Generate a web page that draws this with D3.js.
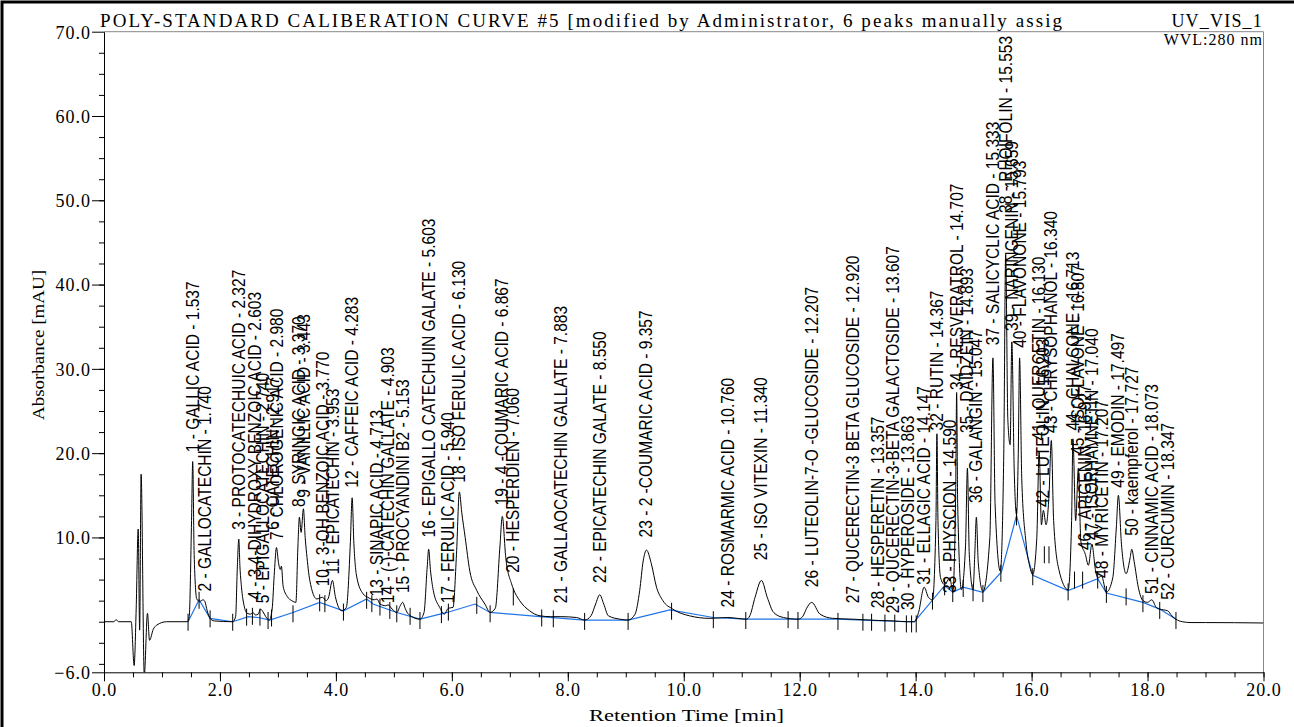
<!DOCTYPE html>
<html>
<head>
<meta charset="utf-8">
<script src="https://cdn.jsdelivr.net/npm/d3@7"></script>
<style>
  body { margin: 0; background: #fff; }
  svg { display: block; }
</style>
</head>
<body>
<svg id="chart" width="1294" height="727"></svg>
<script>
// chromatogram trace, [time min, absorbance mAU]
var trace = [
  [0,0],[0.17,0],[0.21,0.25],[0.25,0],[0.47,0],[0.52,-5.2],[0.555,1.5],[0.59,11],[0.615,-1],[0.64,17.5],
  [0.695,-6.3],[0.75,1],[0.785,-2.2],[0.85,-0.9],[0.91,-0.4],[1.08,0],[1.44,0],
  [1.47,0.6],[1.51,12],[1.53,19],[1.555,8],[1.60,2.7],[1.65,2.4],[1.71,2.6],[1.74,2.4],[1.78,1.3],[1.83,0.4],[1.90,0.1],[2.22,0],
  [2.27,0.6],[2.30,6.5],[2.325,9.8],[2.345,6.5],[2.37,4.2],[2.42,1.8],[2.47,1.0],[2.53,0.9],[2.57,1.1],[2.61,0.8],
  [2.66,0.9],[2.70,1.5],[2.74,1.2],[2.79,0.6],[2.85,0.2],
  [2.90,1.5],[2.94,6],[2.975,8.8],[3.01,7.0],[3.04,6.2],[3.06,6.6],[3.09,4.2],[3.16,3.0],[3.24,2.5],[3.31,2.3],
  [3.345,9],[3.37,12.4],[3.40,10.6],[3.44,13.4],[3.47,10],[3.495,8.1],[3.55,4.9],[3.67,2.7],[3.77,2.9],[3.83,2.5],
  [3.87,2.8],[3.94,4.9],[3.99,3],[4.10,1.3],[4.18,1.7],
  [4.25,9.5],[4.28,14.7],[4.31,9.3],[4.36,5.3],[4.47,3.3],[4.55,2.9],[4.66,2.6],[4.71,2.7],[4.76,2.1],[4.86,1.9],
  [4.90,2.0],[4.97,1.5],[5.05,1.1],[5.11,1.9],[5.15,2.3],[5.20,1.5],[5.25,0.9],[5.45,0.3],
  [5.52,1.1],[5.575,6.5],[5.60,8.6],[5.63,6.2],[5.68,3.7],[5.79,1.7],[5.87,0.9],[5.94,1.6],[6.02,1.7],
  [6.08,8],[6.13,15.4],[6.17,13],[6.23,10],[6.31,6],[6.43,3.7],[6.57,2.1],[6.66,1.1],
  [6.75,1.6],[6.83,9],[6.87,12.5],[6.93,7.6],[7.03,4.5],[7.06,3.9],[7.17,2.5],[7.34,1.3],[7.52,0.7],[7.70,0.6],
  [7.88,0.6],[8.15,0.5],[8.29,0.2],
  [8.40,0.7],[8.48,2.1],[8.55,3.2],[8.62,2.1],[8.70,0.7],[8.90,0.3],[9.04,0.2],
  [9.16,0.9],[9.24,3.7],[9.30,7.2],[9.357,8.5],[9.44,6.9],[9.53,4.1],[9.64,2.5],[9.81,1.5],[10.1,0.7],[10.45,0.4],
  [10.76,0.5],[11.08,0.3],
  [11.14,0.7],[11.23,2.9],[11.34,4.9],[11.44,2.9],[11.55,1.1],[11.72,0.5],[11.97,0.3],
  [12.05,0.6],[12.12,1.6],[12.207,2.3],[12.35,0.9],[12.57,0.4],[12.92,0.3],[13.36,0.15],[13.61,0.1],[13.86,0],[13.98,0],
  [14.05,1.1],[14.147,4.1],[14.22,2.9],[14.29,2.6],[14.35,12],[14.367,22.3],[14.385,12],[14.43,5.2],[14.50,4.4],
  [14.59,5.2],[14.64,3.6],[14.69,15],[14.707,27.2],[14.725,14],[14.79,3.8],[14.86,9],[14.893,18.2],[14.925,8],
  [14.99,3.8],[15.02,8],[15.047,12.4],[15.08,7],[15.16,3.6],
  [15.28,10],[15.333,31.3],[15.37,14],[15.46,6],[15.52,20],[15.553,43.6],[15.59,24],[15.63,21],[15.659,33.2],
  [15.70,18],[15.74,12.7],[15.77,20],[15.793,31.3],[15.83,17],[15.90,9.6],[15.97,6.5],[16.02,5.6],
  [16.09,10],[16.13,20.2],[16.17,11.5],[16.203,13.2],[16.25,11.5],[16.30,15],[16.34,21.5],[16.38,12],[16.47,6.2],[16.63,3.8],
  [16.69,12],[16.713,21.7],[16.76,12],[16.807,18.2],[16.85,9.5],[16.927,8],[16.98,6.7],[17.04,9.2],[17.10,6.2],
  [17.14,5.2],[17.207,5.4],[17.29,3.5],
  [17.40,5.2],[17.46,11],[17.497,15],[17.55,9.2],[17.63,5.7],[17.70,7.6],[17.727,8.6],[17.77,7.1],[17.84,4.1],
  [17.92,2.5],[18.00,2.3],[18.073,2.6],[18.15,1.7],[18.21,1.5],[18.28,1.4],[18.347,1.3],[18.42,0.7],[18.49,0.3],
  [18.60,0],[18.75,-0.1],[19.0,-0.1],[20.0,-0.15]
];

// integration baseline (blue)
var baseline = [
  [1.45,0],[1.64,2.6],[1.83,0.4],[2.22,0],[2.49,0.6],[2.66,0.5],[2.86,0.2],[3.26,1.1],[3.72,2.3],[4.13,1.3],
  [4.53,2.7],[4.64,2.1],[5.05,1.1],[5.45,0.3],[5.92,1.1],[6.40,2.1],[6.66,1.1],[7.52,0.6],[8.29,0.2],[9.04,0.2],
  [9.76,1.4],[10.51,0.5],[11.08,0.3],[11.8,0.3],[12.66,0.3],[13.09,0.2],[13.84,0],[13.98,0],[14.50,4.3],[14.64,3.5],
  [14.82,4.1],[15.16,3.5],[15.48,5.9],[15.74,12.6],[16.02,5.5],[16.63,3.7],[17.14,5.1],[17.29,3.4],[17.92,2.3],
  [18.21,1.5],[18.49,0.3]
];

// peak start / end markers
var delimiters = [
  [1.45,0],[1.64,2.6],[1.83,0.4],[2.22,0],[2.46,0.6],[2.56,0.7],[2.69,0.6],[2.83,0.2],[2.89,0.5],[3.26,1.0],
  [3.72,2.3],[3.81,2.2],[4.13,1.2],[4.53,2.6],[4.62,2.2],[4.76,1.8],[4.93,1.4],[5.05,1.0],[5.28,0.7],[5.45,0.2],
  [5.82,0.9],[5.94,1.2],[6.43,2.0],[6.66,1.0],[7.06,3.0],[7.55,0.5],[7.75,0.4],[8.29,0.1],[9.04,0.1],[9.79,1.3],
  [10.51,0.3],[11.07,0.2],[11.8,0.3],[11.97,0.2],[12.66,0.1],[13.09,0],[13.24,0],[13.47,-0.1],[13.64,-0.1],
  [13.84,-0.2],[13.93,-0.2],[14.01,-0.2],[14.29,2.5],[14.50,4.2],[14.64,3.4],[14.82,4.0],[14.99,3.5],[15.16,3.4],
  [15.47,5.8],[15.74,12.5],[16.02,5.4],[16.22,8],[16.30,8],[16.63,3.6],[16.74,5],[16.88,5],[17.14,5.0],[17.29,3.3],
  [17.63,3.0],[17.92,2.2],[18.21,1.4],[18.49,0.2]
];

var peakNames = [
  "GALLIC ACID","GALLOCATECHIN","PROTOCATECHUIC ACID","3,4-DIHYDROXY BENZOIC ACID","EPIGALLOCATECHIN",
  "CATECHIN","CHLOROGENIC ACID","SYRINGIC ACID","VANILLIC ACID","3-OH BENZOIC ACID",
  "EPICATECHIN","CAFFEIC ACID","SINAPIC ACID","(-)-CATECHIN GALLATE","PROCYANDINI B2",
  "EPIGALLO CATECHUIN GALATE","FERULIC ACID","ISO FERULIC ACID","4 -COUMARIC ACID","HESPERDIEN",
  "GALLAOCATECHIN GALLATE","EPICATECHIN GALATE","2 -COUMARIC ACID","ROSMARMIC ACID","ISO VITEXIN",
  "LUTEOLIN-7-O -GLUCOSIDE","QUCERECTIN-3 BETA GLUCOSIDE","HESPERETIN","QUCERECTIN-3-BETA GALACTOSIDE","HYPEROSIDE",
  "ELLAGIC ACID","RUTIN","PHYSCION","RESVERATROL","DAIDZEIN",
  "GALANGIN","SALICYCLIC ACID","RHOIFOLIN","NARINGENIN","FLAVONONE",
  "QUERCETIN","LUTEOLIN","CHRYSOPHANOL","CHALCONE","ISOFLAVONE",
  "APIGENIN","ISORHAMNETIN","MYRICETIN","EMODIN","kaempferol",
  "CINNAMIC ACID","CURCUMIN"
];
var peakTimes = [
  1.537,1.740,2.327,2.603,2.740,2.917,2.980,3.370,3.443,3.770,
  3.953,4.283,4.713,4.903,5.153,5.603,5.940,6.130,6.867,7.060,
  7.883,8.550,9.357,10.760,11.340,12.207,12.920,13.357,13.607,13.863,
  14.147,14.367,14.590,14.707,14.893,15.047,15.333,15.553,15.659,15.793,
  16.130,16.203,16.340,16.713,16.807,16.927,17.040,17.207,17.497,17.727,
  18.073,18.347
];
// absorbance level at which each peak label begins
var labelLevels = [
  20.1,3.6,10.9,2.6,2.2,10.9,9.7,13.6,14.7,4.2,
  5.6,15.9,3.0,2.2,3.4,10.0,2.2,16.5,13.8,5.8,
  2.2,4.6,10.0,1.7,7.3,4.1,2.2,1.6,1.0,1.4,
  4.4,22.7,3.4,27.5,22.4,14.1,32.8,48.5,34.5,32.5,
  21.5,13.6,22.4,22.7,19.8,8.5,9.7,5.2,15.9,10.2,
  3.3,2.6
];

var xTicksMajor = d3.range(0, 20.001, 2);
var xTicksMinor = d3.range(0, 20.001, 0.5);
var yTicksMajor = [70, 60, 50, 40, 30, 20, 10, -6];
var yTicksMinor = d3.range(-5, 70, 2.5);

var svg = d3.select("#chart");
var serif = "'Liberation Serif', 'Times New Roman', serif";
var sans = "'Liberation Sans', Arial, sans-serif";

var x = d3.scaleLinear().domain([0, 20]).range([104, 1263.5]);
var y = d3.scaleLinear().domain([-6, 70]).range([672.3, 31.7]);

// outer frame of the print
svg.append("path")
    .attr("d", "M2,727 L2,2 L1294,2")
    .attr("fill", "none").attr("stroke", "#000").attr("stroke-width", 3);

// plot frame: top & right in grey
svg.append("path")
    .attr("d", "M" + x(0) + "," + y(70) + " L" + x(20) + "," + y(70) + " L" + x(20) + "," + y(-6))
    .attr("fill", "none").attr("stroke", "#888").attr("stroke-width", 1);

svg.append("defs").append("clipPath").attr("id", "plotclip")
  .append("rect")
    .attr("x", x(0)).attr("y", y(70))
    .attr("width", x(20) - x(0)).attr("height", y(-6) - y(70));

// minor ticks
svg.append("g")
    .attr("transform", "translate(0," + y(-6) + ")")
    .call(d3.axisBottom(x).tickValues(xTicksMinor).tickSize(5).tickFormat(""))
    .call(function(g) { g.select(".domain").remove(); });
svg.append("g")
    .attr("transform", "translate(" + x(0) + ",0)")
    .call(d3.axisLeft(y).tickValues(yTicksMinor).tickSize(5).tickFormat(""))
    .call(function(g) { g.select(".domain").remove(); });

// major ticks + labels
var xAxis = svg.append("g")
    .attr("transform", "translate(0," + y(-6) + ")")
    .call(d3.axisBottom(x).tickValues(xTicksMajor).tickSize(9).tickSizeOuter(0).tickFormat(d3.format(".1f")));
var yAxis = svg.append("g")
    .attr("transform", "translate(" + x(0) + ",0)")
    .call(d3.axisLeft(y).tickValues(yTicksMajor).tickSize(12).tickSizeOuter(0).tickFormat(d3.format(".1f")));

[xAxis, yAxis].forEach(function(g) {
    g.selectAll("text").attr("font-family", serif).attr("font-size", 18).attr("fill", "#000")
        .attr("letter-spacing", 1);
    g.selectAll("line").attr("stroke", "#000");
    g.select(".domain").attr("stroke", "#000");
});
xAxis.selectAll("text").attr("y", 24).attr("dy", 0);
yAxis.selectAll("text").attr("x", -13).attr("dy", "0.35em");

// titles
svg.append("text")
    .attr("x", 100).attr("y", 27)
    .attr("font-family", serif).attr("font-size", 19)
    .attr("textLength", 962).attr("lengthAdjust", "spacing")
    .text("POLY-STANDARD CALIBERATION CURVE #5 [modified by Administrator, 6 peaks manually assig");
svg.append("text")
    .attr("x", 1263).attr("y", 27).attr("text-anchor", "end")
    .attr("font-family", serif).attr("font-size", 18).attr("letter-spacing", 1.2)
    .text("UV_VIS_1");
svg.append("text")
    .attr("x", 1263).attr("y", 45).attr("text-anchor", "end")
    .attr("font-family", serif).attr("font-size", 16).attr("letter-spacing", 1)
    .text("WVL:280 nm");

svg.append("text")
    .attr("x", 589).attr("y", 721)
    .attr("font-family", serif).attr("font-size", 16)
    .attr("textLength", 195).attr("lengthAdjust", "spacingAndGlyphs")
    .text("Retention Time [min]");
svg.append("text")
    .attr("transform", "translate(44,420) rotate(-90)")
    .attr("font-family", serif).attr("font-size", 16)
    .attr("textLength", 150).attr("lengthAdjust", "spacingAndGlyphs")
    .text("Absorbance [mAU]");

var plot = svg.append("g").attr("clip-path", "url(#plotclip)");

var line = d3.line()
    .x(function(d) { return x(d[0]); })
    .y(function(d) { return y(d[1]); });

plot.append("path")
    .datum(baseline)
    .attr("d", line)
    .attr("fill", "none").attr("stroke", "#1f74e8").attr("stroke-width", 1.2);

plot.append("path")
    .datum(trace)
    .attr("d", line.curve(d3.curveMonotoneX))
    .attr("fill", "none").attr("stroke", "#000").attr("stroke-width", 1);

plot.selectAll("line.delim")
    .data(delimiters)
  .enter().append("line")
    .attr("class", "delim")
    .attr("x1", function(d) { return x(d[0]); })
    .attr("x2", function(d) { return x(d[0]); })
    .attr("y1", function(d) { return y(d[1]) - 8; })
    .attr("y2", function(d) { return y(d[1]) + 9; })
    .attr("stroke", "#000").attr("stroke-width", 1);

// peak labels, vertical
var fmt = d3.format(".3f");
svg.append("g").selectAll("text")
    .data(peakNames)
  .enter().append("text")
    .attr("transform", function(d, i) {
        return "translate(" + (x(peakTimes[i]) + 6) + "," + y(labelLevels[i]) + ") rotate(-90) scale(0.84,1)";
    })
    .attr("font-family", sans).attr("font-size", 18.5)
    .attr("fill", "#000")
    .text(function(d, i) { return (i + 1) + " - " + d + " - " + fmt(peakTimes[i]); });
</script>
</body>
</html>
